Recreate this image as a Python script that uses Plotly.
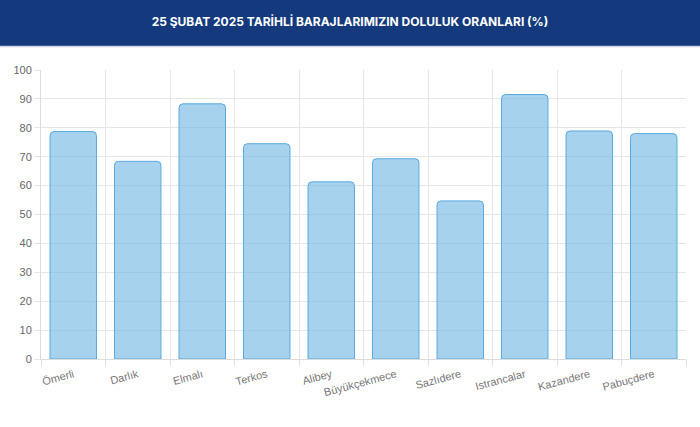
import plotly.graph_objects as go

# Dam names and fill rates (%)
barajlar = ["Ömerli", "Darlık", "Elmalı", "Terkos", "Alibey", "Büyükçekmece",
            "Sazlıdere", "Istrancalar", "Kazandere", "Pabuçdere"]
doluluk = [78.7, 68.4, 88.3, 74.5, 61.3, 69.3, 54.7, 91.5, 78.9, 78.0]
y_ticks = [0, 10, 20, 30, 40, 50, 60, 70, 80, 90, 100]

baslik = "25 ŞUBAT 2025 TARİHLİ BARAJLARIMIZIN DOLULUK ORANLARI (%)"

fig = go.Figure()
fig.add_trace(go.Bar(
    x=barajlar,
    y=doluluk,
    marker=dict(color="rgba(124,188,230,0.68)",
                line=dict(color="#5aa9df", width=1),
                cornerradius=4),
    hoverinfo="x+y",
))

# dark blue title band
fig.add_shape(type="rect", xref="paper", yref="paper",
              x0=-0.1, x1=1.1, y0=1.083, y1=1.4,
              fillcolor="#143a7d", line=dict(width=0), layer="below")
fig.add_shape(type="line", xref="paper", yref="paper",
              x0=-0.1, x1=1.1, y0=1.081, y1=1.081,
              line=dict(color="#c9d3e3", width=1.5))

fig.update_layout(
    width=700, height=427,
    margin=dict(l=41, r=14, t=70, b=68),
    paper_bgcolor="white",
    plot_bgcolor="white",
    showlegend=False,
    bargap=0.28,
    title=dict(text="<b>" + baslik + "</b>", x=0.5, xanchor="center",
               y=1 - 22 / 427, yanchor="middle",
               font=dict(family="Inter", size=12, color="white")),
    font=dict(family="Liberation Sans", color="#666666"),
)
fig.update_xaxes(
    tickson="boundaries", showgrid=True, gridcolor="#e6e6e6",
    ticks="outside", ticklen=6, tickcolor="#e0e0e0",
    showline=True, linecolor="#dcdcdc", ticklabelstandoff=4,
    tickangle=-15, tickfont=dict(size=11, color="#777777"),
)
fig.update_yaxes(
    range=[0, 100], tickvals=y_ticks, showgrid=True, gridcolor="#e6e6e6",
    ticks="outside", ticklen=6, tickcolor="#e6e6e6",
    showline=True, linecolor="#dcdcdc", zeroline=False,
    tickfont=dict(size=11, color="#666666"),
)

fig.write_html("out.html", config={"displayModeBar": False},
               post_script="document.body.style.margin='0';")
